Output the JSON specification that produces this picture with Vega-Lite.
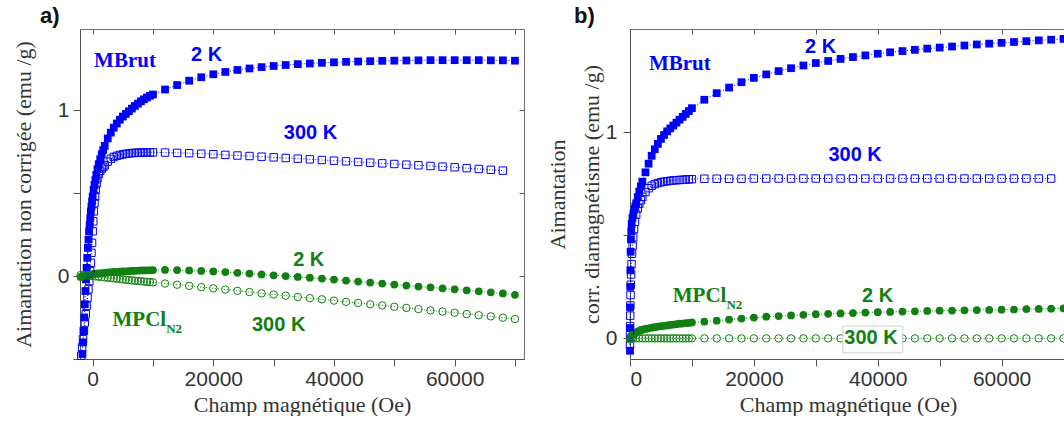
{
"$schema": "https://vega.github.io/schema/vega-lite/v6.json",
"background": "white",
"padding": {"left": 11, "top": 4, "right": 0, "bottom": 0},
"spacing": 20,
"config": {
 "view": {"stroke": "#707070", "strokeWidth": 1},
 "axis": {"grid": false, "domainColor": "#555555", "tickColor": "#555555", "labelColor": "#333333", "titleColor": "#333333", "labelFont": "Liberation Sans", "labelFontSize": 21, "titleFont": "Liberation Serif", "titleFontSize": 22, "titleFontWeight": "normal", "tickSize": 7, "labelOverlap": false, "labelBound": false}
},
"datasets": {
"d": [
{"p":"a","s":"MBrut","t":"2K","x":-1700,"y":-0.47},{"p":"a","s":"MBrut","t":"2K","x":-1600,"y":-0.40},{"p":"a","s":"MBrut","t":"2K","x":-1500,"y":-0.33},{"p":"a","s":"MBrut","t":"2K","x":-1400,"y":-0.25},{"p":"a","s":"MBrut","t":"2K","x":-1300,"y":-0.17},{"p":"a","s":"MBrut","t":"2K","x":-1200,"y":-0.09},{"p":"a","s":"MBrut","t":"2K","x":-1100,"y":-0.02},{"p":"a","s":"MBrut","t":"2K","x":-1000,"y":0.05},{"p":"a","s":"MBrut","t":"2K","x":-900,"y":0.11},{"p":"a","s":"MBrut","t":"2K","x":-800,"y":0.17},{"p":"a","s":"MBrut","t":"2K","x":-700,"y":0.22},{"p":"a","s":"MBrut","t":"2K","x":-600,"y":0.27},{"p":"a","s":"MBrut","t":"2K","x":-500,"y":0.31},{"p":"a","s":"MBrut","t":"2K","x":-400,"y":0.35},{"p":"a","s":"MBrut","t":"2K","x":-300,"y":0.39},{"p":"a","s":"MBrut","t":"2K","x":-200,"y":0.42},{"p":"a","s":"MBrut","t":"2K","x":-100,"y":0.45},{"p":"a","s":"MBrut","t":"2K","x":0,"y":0.48},{"p":"a","s":"MBrut","t":"2K","x":150,"y":0.52},{"p":"a","s":"MBrut","t":"2K","x":300,"y":0.55},{"p":"a","s":"MBrut","t":"2K","x":450,"y":0.58},{"p":"a","s":"MBrut","t":"2K","x":600,"y":0.61},{"p":"a","s":"MBrut","t":"2K","x":800,"y":0.645},{"p":"a","s":"MBrut","t":"2K","x":1000,"y":0.675},{"p":"a","s":"MBrut","t":"2K","x":1250,"y":0.705},{"p":"a","s":"MBrut","t":"2K","x":1500,"y":0.735},{"p":"a","s":"MBrut","t":"2K","x":1750,"y":0.76},{"p":"a","s":"MBrut","t":"2K","x":2000,"y":0.785},{"p":"a","s":"MBrut","t":"2K","x":2500,"y":0.83},{"p":"a","s":"MBrut","t":"2K","x":3000,"y":0.865},{"p":"a","s":"MBrut","t":"2K","x":3500,"y":0.895},{"p":"a","s":"MBrut","t":"2K","x":4000,"y":0.92},{"p":"a","s":"MBrut","t":"2K","x":4500,"y":0.943},{"p":"a","s":"MBrut","t":"2K","x":5000,"y":0.962},{"p":"a","s":"MBrut","t":"2K","x":5500,"y":0.978},{"p":"a","s":"MBrut","t":"2K","x":6000,"y":0.994},{"p":"a","s":"MBrut","t":"2K","x":6500,"y":1.01},{"p":"a","s":"MBrut","t":"2K","x":7000,"y":1.026},{"p":"a","s":"MBrut","t":"2K","x":7500,"y":1.04},{"p":"a","s":"MBrut","t":"2K","x":8000,"y":1.054},{"p":"a","s":"MBrut","t":"2K","x":8500,"y":1.066},{"p":"a","s":"MBrut","t":"2K","x":9000,"y":1.077},{"p":"a","s":"MBrut","t":"2K","x":9500,"y":1.087},{"p":"a","s":"MBrut","t":"2K","x":10000,"y":1.095},
{"p":"a","s":"MBrut","t":"2K","x":12000,"y":1.125},{"p":"a","s":"MBrut","t":"2K","x":14000,"y":1.152},{"p":"a","s":"MBrut","t":"2K","x":16000,"y":1.178},{"p":"a","s":"MBrut","t":"2K","x":18000,"y":1.199},{"p":"a","s":"MBrut","t":"2K","x":20000,"y":1.217},{"p":"a","s":"MBrut","t":"2K","x":22000,"y":1.231},{"p":"a","s":"MBrut","t":"2K","x":24000,"y":1.243},{"p":"a","s":"MBrut","t":"2K","x":26000,"y":1.252},{"p":"a","s":"MBrut","t":"2K","x":28000,"y":1.26},{"p":"a","s":"MBrut","t":"2K","x":30000,"y":1.267},{"p":"a","s":"MBrut","t":"2K","x":32000,"y":1.273},{"p":"a","s":"MBrut","t":"2K","x":34000,"y":1.278},{"p":"a","s":"MBrut","t":"2K","x":36000,"y":1.282},{"p":"a","s":"MBrut","t":"2K","x":38000,"y":1.286},{"p":"a","s":"MBrut","t":"2K","x":40000,"y":1.289},{"p":"a","s":"MBrut","t":"2K","x":42000,"y":1.292},{"p":"a","s":"MBrut","t":"2K","x":44000,"y":1.294},{"p":"a","s":"MBrut","t":"2K","x":46000,"y":1.296},{"p":"a","s":"MBrut","t":"2K","x":48000,"y":1.298},{"p":"a","s":"MBrut","t":"2K","x":50000,"y":1.299},{"p":"a","s":"MBrut","t":"2K","x":52000,"y":1.3},{"p":"a","s":"MBrut","t":"2K","x":54000,"y":1.301},{"p":"a","s":"MBrut","t":"2K","x":56000,"y":1.302},{"p":"a","s":"MBrut","t":"2K","x":58000,"y":1.302},{"p":"a","s":"MBrut","t":"2K","x":60000,"y":1.302},{"p":"a","s":"MBrut","t":"2K","x":62000,"y":1.302},{"p":"a","s":"MBrut","t":"2K","x":64000,"y":1.302},{"p":"a","s":"MBrut","t":"2K","x":66000,"y":1.301},{"p":"a","s":"MBrut","t":"2K","x":68000,"y":1.301},{"p":"a","s":"MBrut","t":"2K","x":70000,"y":1.299},
{"p":"a","s":"MBrut","t":"300K","x":-1900,"y":-0.48},{"p":"a","s":"MBrut","t":"300K","x":-1750,"y":-0.43},{"p":"a","s":"MBrut","t":"300K","x":-1600,"y":-0.38},{"p":"a","s":"MBrut","t":"300K","x":-1450,"y":-0.33},{"p":"a","s":"MBrut","t":"300K","x":-1300,"y":-0.28},{"p":"a","s":"MBrut","t":"300K","x":-1150,"y":-0.23},{"p":"a","s":"MBrut","t":"300K","x":-1000,"y":-0.18},{"p":"a","s":"MBrut","t":"300K","x":-850,"y":-0.13},{"p":"a","s":"MBrut","t":"300K","x":-700,"y":-0.08},{"p":"a","s":"MBrut","t":"300K","x":-550,"y":-0.03},{"p":"a","s":"MBrut","t":"300K","x":-400,"y":0.03},{"p":"a","s":"MBrut","t":"300K","x":-300,"y":0.08},{"p":"a","s":"MBrut","t":"300K","x":-200,"y":0.14},{"p":"a","s":"MBrut","t":"300K","x":-100,"y":0.2},{"p":"a","s":"MBrut","t":"300K","x":0,"y":0.27},{"p":"a","s":"MBrut","t":"300K","x":100,"y":0.33},{"p":"a","s":"MBrut","t":"300K","x":200,"y":0.39},{"p":"a","s":"MBrut","t":"300K","x":300,"y":0.44},{"p":"a","s":"MBrut","t":"300K","x":400,"y":0.48},{"p":"a","s":"MBrut","t":"300K","x":500,"y":0.52},{"p":"a","s":"MBrut","t":"300K","x":650,"y":0.56},{"p":"a","s":"MBrut","t":"300K","x":800,"y":0.59},{"p":"a","s":"MBrut","t":"300K","x":1000,"y":0.615},{"p":"a","s":"MBrut","t":"300K","x":1250,"y":0.635},{"p":"a","s":"MBrut","t":"300K","x":1500,"y":0.648},{"p":"a","s":"MBrut","t":"300K","x":1750,"y":0.658},{"p":"a","s":"MBrut","t":"300K","x":2000,"y":0.668},{"p":"a","s":"MBrut","t":"300K","x":2500,"y":0.69},{"p":"a","s":"MBrut","t":"300K","x":3000,"y":0.707},{"p":"a","s":"MBrut","t":"300K","x":3500,"y":0.718},{"p":"a","s":"MBrut","t":"300K","x":4000,"y":0.725},{"p":"a","s":"MBrut","t":"300K","x":4500,"y":0.73},{"p":"a","s":"MBrut","t":"300K","x":5000,"y":0.734},{"p":"a","s":"MBrut","t":"300K","x":5500,"y":0.737},{"p":"a","s":"MBrut","t":"300K","x":6000,"y":0.74},{"p":"a","s":"MBrut","t":"300K","x":6500,"y":0.742},{"p":"a","s":"MBrut","t":"300K","x":7000,"y":0.743},{"p":"a","s":"MBrut","t":"300K","x":7500,"y":0.744},{"p":"a","s":"MBrut","t":"300K","x":8000,"y":0.745},{"p":"a","s":"MBrut","t":"300K","x":8500,"y":0.745},{"p":"a","s":"MBrut","t":"300K","x":9000,"y":0.746},{"p":"a","s":"MBrut","t":"300K","x":9500,"y":0.746},{"p":"a","s":"MBrut","t":"300K","x":10000,"y":0.746},
{"p":"a","s":"MBrut","t":"300K","x":12000,"y":0.745},{"p":"a","s":"MBrut","t":"300K","x":14000,"y":0.743},{"p":"a","s":"MBrut","t":"300K","x":16000,"y":0.741},{"p":"a","s":"MBrut","t":"300K","x":18000,"y":0.738},{"p":"a","s":"MBrut","t":"300K","x":20000,"y":0.735},{"p":"a","s":"MBrut","t":"300K","x":22000,"y":0.731},{"p":"a","s":"MBrut","t":"300K","x":24000,"y":0.727},{"p":"a","s":"MBrut","t":"300K","x":26000,"y":0.724},{"p":"a","s":"MBrut","t":"300K","x":28000,"y":0.72},{"p":"a","s":"MBrut","t":"300K","x":30000,"y":0.716},{"p":"a","s":"MBrut","t":"300K","x":32000,"y":0.712},{"p":"a","s":"MBrut","t":"300K","x":34000,"y":0.708},{"p":"a","s":"MBrut","t":"300K","x":36000,"y":0.704},{"p":"a","s":"MBrut","t":"300K","x":38000,"y":0.7},{"p":"a","s":"MBrut","t":"300K","x":40000,"y":0.696},{"p":"a","s":"MBrut","t":"300K","x":42000,"y":0.692},{"p":"a","s":"MBrut","t":"300K","x":44000,"y":0.688},{"p":"a","s":"MBrut","t":"300K","x":46000,"y":0.684},{"p":"a","s":"MBrut","t":"300K","x":48000,"y":0.68},{"p":"a","s":"MBrut","t":"300K","x":50000,"y":0.676},{"p":"a","s":"MBrut","t":"300K","x":52000,"y":0.672},{"p":"a","s":"MBrut","t":"300K","x":54000,"y":0.668},{"p":"a","s":"MBrut","t":"300K","x":56000,"y":0.664},{"p":"a","s":"MBrut","t":"300K","x":58000,"y":0.66},{"p":"a","s":"MBrut","t":"300K","x":60000,"y":0.656},{"p":"a","s":"MBrut","t":"300K","x":62000,"y":0.651},{"p":"a","s":"MBrut","t":"300K","x":64000,"y":0.646},{"p":"a","s":"MBrut","t":"300K","x":66000,"y":0.641},{"p":"a","s":"MBrut","t":"300K","x":68000,"y":0.636},
{"p":"a","s":"MPCl","t":"2K","x":-2000,"y":-0.005},{"p":"a","s":"MPCl","t":"2K","x":-1500,"y":0.0},{"p":"a","s":"MPCl","t":"2K","x":-1000,"y":0.004},{"p":"a","s":"MPCl","t":"2K","x":-500,"y":0.008},{"p":"a","s":"MPCl","t":"2K","x":0,"y":0.012},{"p":"a","s":"MPCl","t":"2K","x":250,"y":0.013},{"p":"a","s":"MPCl","t":"2K","x":500,"y":0.014},{"p":"a","s":"MPCl","t":"2K","x":750,"y":0.015},{"p":"a","s":"MPCl","t":"2K","x":1000,"y":0.016},{"p":"a","s":"MPCl","t":"2K","x":1500,"y":0.018},{"p":"a","s":"MPCl","t":"2K","x":2000,"y":0.02},{"p":"a","s":"MPCl","t":"2K","x":2500,"y":0.022},{"p":"a","s":"MPCl","t":"2K","x":3000,"y":0.023},{"p":"a","s":"MPCl","t":"2K","x":3500,"y":0.025},{"p":"a","s":"MPCl","t":"2K","x":4000,"y":0.026},{"p":"a","s":"MPCl","t":"2K","x":4500,"y":0.027},{"p":"a","s":"MPCl","t":"2K","x":5000,"y":0.028},{"p":"a","s":"MPCl","t":"2K","x":5500,"y":0.029},{"p":"a","s":"MPCl","t":"2K","x":6000,"y":0.03},{"p":"a","s":"MPCl","t":"2K","x":6500,"y":0.031},{"p":"a","s":"MPCl","t":"2K","x":7000,"y":0.032},{"p":"a","s":"MPCl","t":"2K","x":7500,"y":0.033},{"p":"a","s":"MPCl","t":"2K","x":8000,"y":0.034},{"p":"a","s":"MPCl","t":"2K","x":8500,"y":0.034},{"p":"a","s":"MPCl","t":"2K","x":9000,"y":0.035},{"p":"a","s":"MPCl","t":"2K","x":9500,"y":0.035},{"p":"a","s":"MPCl","t":"2K","x":10000,"y":0.036},
{"p":"a","s":"MPCl","t":"2K","x":12000,"y":0.037},{"p":"a","s":"MPCl","t":"2K","x":14000,"y":0.036},{"p":"a","s":"MPCl","t":"2K","x":16000,"y":0.034},{"p":"a","s":"MPCl","t":"2K","x":18000,"y":0.031},{"p":"a","s":"MPCl","t":"2K","x":20000,"y":0.028},{"p":"a","s":"MPCl","t":"2K","x":22000,"y":0.024},{"p":"a","s":"MPCl","t":"2K","x":24000,"y":0.02},{"p":"a","s":"MPCl","t":"2K","x":26000,"y":0.015},{"p":"a","s":"MPCl","t":"2K","x":28000,"y":0.01},{"p":"a","s":"MPCl","t":"2K","x":30000,"y":0.005},{"p":"a","s":"MPCl","t":"2K","x":32000,"y":0.0},{"p":"a","s":"MPCl","t":"2K","x":34000,"y":-0.005},{"p":"a","s":"MPCl","t":"2K","x":36000,"y":-0.01},{"p":"a","s":"MPCl","t":"2K","x":38000,"y":-0.015},{"p":"a","s":"MPCl","t":"2K","x":40000,"y":-0.021},{"p":"a","s":"MPCl","t":"2K","x":42000,"y":-0.027},{"p":"a","s":"MPCl","t":"2K","x":44000,"y":-0.033},{"p":"a","s":"MPCl","t":"2K","x":46000,"y":-0.039},{"p":"a","s":"MPCl","t":"2K","x":48000,"y":-0.045},{"p":"a","s":"MPCl","t":"2K","x":50000,"y":-0.051},{"p":"a","s":"MPCl","t":"2K","x":52000,"y":-0.057},{"p":"a","s":"MPCl","t":"2K","x":54000,"y":-0.063},{"p":"a","s":"MPCl","t":"2K","x":56000,"y":-0.068},{"p":"a","s":"MPCl","t":"2K","x":58000,"y":-0.074},{"p":"a","s":"MPCl","t":"2K","x":60000,"y":-0.08},{"p":"a","s":"MPCl","t":"2K","x":62000,"y":-0.086},{"p":"a","s":"MPCl","t":"2K","x":64000,"y":-0.092},{"p":"a","s":"MPCl","t":"2K","x":66000,"y":-0.098},{"p":"a","s":"MPCl","t":"2K","x":68000,"y":-0.105},{"p":"a","s":"MPCl","t":"2K","x":70000,"y":-0.113},
{"p":"a","s":"MPCl","t":"300K","x":-2000,"y":0.006},{"p":"a","s":"MPCl","t":"300K","x":-1500,"y":0.005},{"p":"a","s":"MPCl","t":"300K","x":-1000,"y":0.004},{"p":"a","s":"MPCl","t":"300K","x":-500,"y":0.002},{"p":"a","s":"MPCl","t":"300K","x":0,"y":0.0},{"p":"a","s":"MPCl","t":"300K","x":500,"y":-0.002},{"p":"a","s":"MPCl","t":"300K","x":1000,"y":-0.004},{"p":"a","s":"MPCl","t":"300K","x":1500,"y":-0.006},{"p":"a","s":"MPCl","t":"300K","x":2000,"y":-0.008},{"p":"a","s":"MPCl","t":"300K","x":2500,"y":-0.01},{"p":"a","s":"MPCl","t":"300K","x":3000,"y":-0.012},{"p":"a","s":"MPCl","t":"300K","x":3500,"y":-0.014},{"p":"a","s":"MPCl","t":"300K","x":4000,"y":-0.016},{"p":"a","s":"MPCl","t":"300K","x":4500,"y":-0.018},{"p":"a","s":"MPCl","t":"300K","x":5000,"y":-0.02},{"p":"a","s":"MPCl","t":"300K","x":5500,"y":-0.022},{"p":"a","s":"MPCl","t":"300K","x":6000,"y":-0.024},{"p":"a","s":"MPCl","t":"300K","x":6500,"y":-0.026},{"p":"a","s":"MPCl","t":"300K","x":7000,"y":-0.028},{"p":"a","s":"MPCl","t":"300K","x":7500,"y":-0.03},{"p":"a","s":"MPCl","t":"300K","x":8000,"y":-0.031},{"p":"a","s":"MPCl","t":"300K","x":8500,"y":-0.033},{"p":"a","s":"MPCl","t":"300K","x":9000,"y":-0.035},{"p":"a","s":"MPCl","t":"300K","x":9500,"y":-0.036},{"p":"a","s":"MPCl","t":"300K","x":10000,"y":-0.038},
{"p":"a","s":"MPCl","t":"300K","x":12000,"y":-0.045},{"p":"a","s":"MPCl","t":"300K","x":14000,"y":-0.052},{"p":"a","s":"MPCl","t":"300K","x":16000,"y":-0.059},{"p":"a","s":"MPCl","t":"300K","x":18000,"y":-0.067},{"p":"a","s":"MPCl","t":"300K","x":20000,"y":-0.074},{"p":"a","s":"MPCl","t":"300K","x":22000,"y":-0.081},{"p":"a","s":"MPCl","t":"300K","x":24000,"y":-0.089},{"p":"a","s":"MPCl","t":"300K","x":26000,"y":-0.096},{"p":"a","s":"MPCl","t":"300K","x":28000,"y":-0.104},{"p":"a","s":"MPCl","t":"300K","x":30000,"y":-0.111},{"p":"a","s":"MPCl","t":"300K","x":32000,"y":-0.118},{"p":"a","s":"MPCl","t":"300K","x":34000,"y":-0.126},{"p":"a","s":"MPCl","t":"300K","x":36000,"y":-0.133},{"p":"a","s":"MPCl","t":"300K","x":38000,"y":-0.14},{"p":"a","s":"MPCl","t":"300K","x":40000,"y":-0.148},{"p":"a","s":"MPCl","t":"300K","x":42000,"y":-0.155},{"p":"a","s":"MPCl","t":"300K","x":44000,"y":-0.162},{"p":"a","s":"MPCl","t":"300K","x":46000,"y":-0.17},{"p":"a","s":"MPCl","t":"300K","x":48000,"y":-0.177},{"p":"a","s":"MPCl","t":"300K","x":50000,"y":-0.185},{"p":"a","s":"MPCl","t":"300K","x":52000,"y":-0.192},{"p":"a","s":"MPCl","t":"300K","x":54000,"y":-0.199},{"p":"a","s":"MPCl","t":"300K","x":56000,"y":-0.207},{"p":"a","s":"MPCl","t":"300K","x":58000,"y":-0.214},{"p":"a","s":"MPCl","t":"300K","x":60000,"y":-0.221},{"p":"a","s":"MPCl","t":"300K","x":62000,"y":-0.229},{"p":"a","s":"MPCl","t":"300K","x":64000,"y":-0.236},{"p":"a","s":"MPCl","t":"300K","x":66000,"y":-0.243},{"p":"a","s":"MPCl","t":"300K","x":68000,"y":-0.251},{"p":"a","s":"MPCl","t":"300K","x":70000,"y":-0.259},
{"p":"b","s":"MBrut","t":"2K","x":0,"y":-0.06},{"p":"b","s":"MBrut","t":"2K","x":10,"y":0.05},{"p":"b","s":"MBrut","t":"2K","x":20,"y":0.15},{"p":"b","s":"MBrut","t":"2K","x":40,"y":0.25},{"p":"b","s":"MBrut","t":"2K","x":60,"y":0.33},{"p":"b","s":"MBrut","t":"2K","x":100,"y":0.42},{"p":"b","s":"MBrut","t":"2K","x":150,"y":0.48},{"p":"b","s":"MBrut","t":"2K","x":200,"y":0.52},{"p":"b","s":"MBrut","t":"2K","x":270,"y":0.555},{"p":"b","s":"MBrut","t":"2K","x":400,"y":0.585},{"p":"b","s":"MBrut","t":"2K","x":550,"y":0.605},{"p":"b","s":"MBrut","t":"2K","x":700,"y":0.625},{"p":"b","s":"MBrut","t":"2K","x":850,"y":0.64},{"p":"b","s":"MBrut","t":"2K","x":1000,"y":0.655},{"p":"b","s":"MBrut","t":"2K","x":1250,"y":0.685},{"p":"b","s":"MBrut","t":"2K","x":1500,"y":0.712},{"p":"b","s":"MBrut","t":"2K","x":1750,"y":0.737},{"p":"b","s":"MBrut","t":"2K","x":2000,"y":0.76},{"p":"b","s":"MBrut","t":"2K","x":2500,"y":0.805},{"p":"b","s":"MBrut","t":"2K","x":3000,"y":0.847},{"p":"b","s":"MBrut","t":"2K","x":3500,"y":0.885},{"p":"b","s":"MBrut","t":"2K","x":4000,"y":0.917},{"p":"b","s":"MBrut","t":"2K","x":4500,"y":0.943},{"p":"b","s":"MBrut","t":"2K","x":5000,"y":0.967},{"p":"b","s":"MBrut","t":"2K","x":5500,"y":0.986},{"p":"b","s":"MBrut","t":"2K","x":6000,"y":1.004},{"p":"b","s":"MBrut","t":"2K","x":6500,"y":1.018},{"p":"b","s":"MBrut","t":"2K","x":7000,"y":1.032},{"p":"b","s":"MBrut","t":"2K","x":7500,"y":1.046},{"p":"b","s":"MBrut","t":"2K","x":8000,"y":1.06},{"p":"b","s":"MBrut","t":"2K","x":8500,"y":1.074},{"p":"b","s":"MBrut","t":"2K","x":9000,"y":1.088},{"p":"b","s":"MBrut","t":"2K","x":9500,"y":1.102},{"p":"b","s":"MBrut","t":"2K","x":10000,"y":1.116},
{"p":"b","s":"MBrut","t":"2K","x":12000,"y":1.157},{"p":"b","s":"MBrut","t":"2K","x":14000,"y":1.189},{"p":"b","s":"MBrut","t":"2K","x":16000,"y":1.216},{"p":"b","s":"MBrut","t":"2K","x":18000,"y":1.242},{"p":"b","s":"MBrut","t":"2K","x":20000,"y":1.263},{"p":"b","s":"MBrut","t":"2K","x":22000,"y":1.28},{"p":"b","s":"MBrut","t":"2K","x":24000,"y":1.296},{"p":"b","s":"MBrut","t":"2K","x":26000,"y":1.31},{"p":"b","s":"MBrut","t":"2K","x":28000,"y":1.323},{"p":"b","s":"MBrut","t":"2K","x":30000,"y":1.335},{"p":"b","s":"MBrut","t":"2K","x":32000,"y":1.345},{"p":"b","s":"MBrut","t":"2K","x":34000,"y":1.355},{"p":"b","s":"MBrut","t":"2K","x":36000,"y":1.364},{"p":"b","s":"MBrut","t":"2K","x":38000,"y":1.372},{"p":"b","s":"MBrut","t":"2K","x":40000,"y":1.38},{"p":"b","s":"MBrut","t":"2K","x":42000,"y":1.387},{"p":"b","s":"MBrut","t":"2K","x":44000,"y":1.393},{"p":"b","s":"MBrut","t":"2K","x":46000,"y":1.399},{"p":"b","s":"MBrut","t":"2K","x":48000,"y":1.405},{"p":"b","s":"MBrut","t":"2K","x":50000,"y":1.41},{"p":"b","s":"MBrut","t":"2K","x":52000,"y":1.415},{"p":"b","s":"MBrut","t":"2K","x":54000,"y":1.42},{"p":"b","s":"MBrut","t":"2K","x":56000,"y":1.425},{"p":"b","s":"MBrut","t":"2K","x":58000,"y":1.429},{"p":"b","s":"MBrut","t":"2K","x":60000,"y":1.433},{"p":"b","s":"MBrut","t":"2K","x":62000,"y":1.437},{"p":"b","s":"MBrut","t":"2K","x":64000,"y":1.441},{"p":"b","s":"MBrut","t":"2K","x":66000,"y":1.445},{"p":"b","s":"MBrut","t":"2K","x":68000,"y":1.448},{"p":"b","s":"MBrut","t":"2K","x":70000,"y":1.452},
{"p":"b","s":"MBrut","t":"300K","x":0,"y":-0.03},{"p":"b","s":"MBrut","t":"300K","x":10,"y":0.02},{"p":"b","s":"MBrut","t":"300K","x":20,"y":0.06},{"p":"b","s":"MBrut","t":"300K","x":40,"y":0.11},{"p":"b","s":"MBrut","t":"300K","x":60,"y":0.16},{"p":"b","s":"MBrut","t":"300K","x":90,"y":0.21},{"p":"b","s":"MBrut","t":"300K","x":130,"y":0.26},{"p":"b","s":"MBrut","t":"300K","x":180,"y":0.31},{"p":"b","s":"MBrut","t":"300K","x":250,"y":0.36},{"p":"b","s":"MBrut","t":"300K","x":330,"y":0.41},{"p":"b","s":"MBrut","t":"300K","x":420,"y":0.45},{"p":"b","s":"MBrut","t":"300K","x":520,"y":0.49},{"p":"b","s":"MBrut","t":"300K","x":650,"y":0.53},{"p":"b","s":"MBrut","t":"300K","x":800,"y":0.565},{"p":"b","s":"MBrut","t":"300K","x":1000,"y":0.6},{"p":"b","s":"MBrut","t":"300K","x":1250,"y":0.63},{"p":"b","s":"MBrut","t":"300K","x":1500,"y":0.652},{"p":"b","s":"MBrut","t":"300K","x":1750,"y":0.67},{"p":"b","s":"MBrut","t":"300K","x":2000,"y":0.686},{"p":"b","s":"MBrut","t":"300K","x":2500,"y":0.71},{"p":"b","s":"MBrut","t":"300K","x":3000,"y":0.728},{"p":"b","s":"MBrut","t":"300K","x":3500,"y":0.74},{"p":"b","s":"MBrut","t":"300K","x":4000,"y":0.748},{"p":"b","s":"MBrut","t":"300K","x":4500,"y":0.753},{"p":"b","s":"MBrut","t":"300K","x":5000,"y":0.757},{"p":"b","s":"MBrut","t":"300K","x":5500,"y":0.76},{"p":"b","s":"MBrut","t":"300K","x":6000,"y":0.762},{"p":"b","s":"MBrut","t":"300K","x":6500,"y":0.764},{"p":"b","s":"MBrut","t":"300K","x":7000,"y":0.766},{"p":"b","s":"MBrut","t":"300K","x":7500,"y":0.767},{"p":"b","s":"MBrut","t":"300K","x":8000,"y":0.768},{"p":"b","s":"MBrut","t":"300K","x":8500,"y":0.769},{"p":"b","s":"MBrut","t":"300K","x":9000,"y":0.77},{"p":"b","s":"MBrut","t":"300K","x":9500,"y":0.771},{"p":"b","s":"MBrut","t":"300K","x":10000,"y":0.772},
{"p":"b","s":"MBrut","t":"300K","x":12000,"y":0.774},{"p":"b","s":"MBrut","t":"300K","x":14000,"y":0.774},{"p":"b","s":"MBrut","t":"300K","x":16000,"y":0.774},{"p":"b","s":"MBrut","t":"300K","x":18000,"y":0.774},{"p":"b","s":"MBrut","t":"300K","x":20000,"y":0.775},{"p":"b","s":"MBrut","t":"300K","x":22000,"y":0.775},{"p":"b","s":"MBrut","t":"300K","x":24000,"y":0.775},{"p":"b","s":"MBrut","t":"300K","x":26000,"y":0.775},{"p":"b","s":"MBrut","t":"300K","x":28000,"y":0.775},{"p":"b","s":"MBrut","t":"300K","x":30000,"y":0.775},{"p":"b","s":"MBrut","t":"300K","x":32000,"y":0.775},{"p":"b","s":"MBrut","t":"300K","x":34000,"y":0.775},{"p":"b","s":"MBrut","t":"300K","x":36000,"y":0.775},{"p":"b","s":"MBrut","t":"300K","x":38000,"y":0.775},{"p":"b","s":"MBrut","t":"300K","x":40000,"y":0.775},{"p":"b","s":"MBrut","t":"300K","x":42000,"y":0.775},{"p":"b","s":"MBrut","t":"300K","x":44000,"y":0.775},{"p":"b","s":"MBrut","t":"300K","x":46000,"y":0.775},{"p":"b","s":"MBrut","t":"300K","x":48000,"y":0.775},{"p":"b","s":"MBrut","t":"300K","x":50000,"y":0.775},{"p":"b","s":"MBrut","t":"300K","x":52000,"y":0.775},{"p":"b","s":"MBrut","t":"300K","x":54000,"y":0.775},{"p":"b","s":"MBrut","t":"300K","x":56000,"y":0.775},{"p":"b","s":"MBrut","t":"300K","x":58000,"y":0.775},{"p":"b","s":"MBrut","t":"300K","x":60000,"y":0.775},{"p":"b","s":"MBrut","t":"300K","x":62000,"y":0.775},{"p":"b","s":"MBrut","t":"300K","x":64000,"y":0.775},{"p":"b","s":"MBrut","t":"300K","x":66000,"y":0.775},{"p":"b","s":"MBrut","t":"300K","x":68000,"y":0.775},
{"p":"b","s":"MPCl","t":"2K","x":0,"y":0.0},{"p":"b","s":"MPCl","t":"2K","x":100,"y":0.008},{"p":"b","s":"MPCl","t":"2K","x":250,"y":0.014},{"p":"b","s":"MPCl","t":"2K","x":500,"y":0.02},{"p":"b","s":"MPCl","t":"2K","x":750,"y":0.025},{"p":"b","s":"MPCl","t":"2K","x":1000,"y":0.029},{"p":"b","s":"MPCl","t":"2K","x":1250,"y":0.033},{"p":"b","s":"MPCl","t":"2K","x":1500,"y":0.036},{"p":"b","s":"MPCl","t":"2K","x":1750,"y":0.04},{"p":"b","s":"MPCl","t":"2K","x":2000,"y":0.043},{"p":"b","s":"MPCl","t":"2K","x":2500,"y":0.046},{"p":"b","s":"MPCl","t":"2K","x":3000,"y":0.049},{"p":"b","s":"MPCl","t":"2K","x":3500,"y":0.052},{"p":"b","s":"MPCl","t":"2K","x":4000,"y":0.054},{"p":"b","s":"MPCl","t":"2K","x":4500,"y":0.057},{"p":"b","s":"MPCl","t":"2K","x":5000,"y":0.059},{"p":"b","s":"MPCl","t":"2K","x":5500,"y":0.061},{"p":"b","s":"MPCl","t":"2K","x":6000,"y":0.063},{"p":"b","s":"MPCl","t":"2K","x":6500,"y":0.065},{"p":"b","s":"MPCl","t":"2K","x":7000,"y":0.067},{"p":"b","s":"MPCl","t":"2K","x":7500,"y":0.069},{"p":"b","s":"MPCl","t":"2K","x":8000,"y":0.071},{"p":"b","s":"MPCl","t":"2K","x":8500,"y":0.072},{"p":"b","s":"MPCl","t":"2K","x":9000,"y":0.074},{"p":"b","s":"MPCl","t":"2K","x":9500,"y":0.075},{"p":"b","s":"MPCl","t":"2K","x":10000,"y":0.077},
{"p":"b","s":"MPCl","t":"2K","x":12000,"y":0.081},{"p":"b","s":"MPCl","t":"2K","x":14000,"y":0.086},{"p":"b","s":"MPCl","t":"2K","x":16000,"y":0.091},{"p":"b","s":"MPCl","t":"2K","x":18000,"y":0.096},{"p":"b","s":"MPCl","t":"2K","x":20000,"y":0.101},{"p":"b","s":"MPCl","t":"2K","x":22000,"y":0.105},{"p":"b","s":"MPCl","t":"2K","x":24000,"y":0.108},{"p":"b","s":"MPCl","t":"2K","x":26000,"y":0.111},{"p":"b","s":"MPCl","t":"2K","x":28000,"y":0.114},{"p":"b","s":"MPCl","t":"2K","x":30000,"y":0.117},{"p":"b","s":"MPCl","t":"2K","x":32000,"y":0.119},{"p":"b","s":"MPCl","t":"2K","x":34000,"y":0.121},{"p":"b","s":"MPCl","t":"2K","x":36000,"y":0.123},{"p":"b","s":"MPCl","t":"2K","x":38000,"y":0.125},{"p":"b","s":"MPCl","t":"2K","x":40000,"y":0.127},{"p":"b","s":"MPCl","t":"2K","x":42000,"y":0.128},{"p":"b","s":"MPCl","t":"2K","x":44000,"y":0.13},{"p":"b","s":"MPCl","t":"2K","x":46000,"y":0.131},{"p":"b","s":"MPCl","t":"2K","x":48000,"y":0.133},{"p":"b","s":"MPCl","t":"2K","x":50000,"y":0.134},{"p":"b","s":"MPCl","t":"2K","x":52000,"y":0.135},{"p":"b","s":"MPCl","t":"2K","x":54000,"y":0.136},{"p":"b","s":"MPCl","t":"2K","x":56000,"y":0.137},{"p":"b","s":"MPCl","t":"2K","x":58000,"y":0.138},{"p":"b","s":"MPCl","t":"2K","x":60000,"y":0.139},{"p":"b","s":"MPCl","t":"2K","x":62000,"y":0.14},{"p":"b","s":"MPCl","t":"2K","x":64000,"y":0.142},{"p":"b","s":"MPCl","t":"2K","x":66000,"y":0.143},{"p":"b","s":"MPCl","t":"2K","x":68000,"y":0.144},{"p":"b","s":"MPCl","t":"2K","x":70000,"y":0.145},
{"p":"b","s":"MPCl","t":"300K","x":0,"y":-0.005},{"p":"b","s":"MPCl","t":"300K","x":250,"y":0.0},{"p":"b","s":"MPCl","t":"300K","x":500,"y":0.0},{"p":"b","s":"MPCl","t":"300K","x":1000,"y":0.0},{"p":"b","s":"MPCl","t":"300K","x":1500,"y":0.0},{"p":"b","s":"MPCl","t":"300K","x":2000,"y":0.0},{"p":"b","s":"MPCl","t":"300K","x":2500,"y":0.0},{"p":"b","s":"MPCl","t":"300K","x":3000,"y":0.0},{"p":"b","s":"MPCl","t":"300K","x":3500,"y":0.0},{"p":"b","s":"MPCl","t":"300K","x":4000,"y":0.0},{"p":"b","s":"MPCl","t":"300K","x":4500,"y":0.0},{"p":"b","s":"MPCl","t":"300K","x":5000,"y":0.0},{"p":"b","s":"MPCl","t":"300K","x":5500,"y":0.0},{"p":"b","s":"MPCl","t":"300K","x":6000,"y":0.0},{"p":"b","s":"MPCl","t":"300K","x":6500,"y":0.0},{"p":"b","s":"MPCl","t":"300K","x":7000,"y":0.0},{"p":"b","s":"MPCl","t":"300K","x":7500,"y":0.0},{"p":"b","s":"MPCl","t":"300K","x":8000,"y":0.0},{"p":"b","s":"MPCl","t":"300K","x":8500,"y":0.0},{"p":"b","s":"MPCl","t":"300K","x":9000,"y":0.0},{"p":"b","s":"MPCl","t":"300K","x":9500,"y":0.0},{"p":"b","s":"MPCl","t":"300K","x":10000,"y":0.0},
{"p":"b","s":"MPCl","t":"300K","x":12000,"y":0.0},{"p":"b","s":"MPCl","t":"300K","x":14000,"y":0.0},{"p":"b","s":"MPCl","t":"300K","x":16000,"y":0.0},{"p":"b","s":"MPCl","t":"300K","x":18000,"y":0.0},{"p":"b","s":"MPCl","t":"300K","x":20000,"y":0.0},{"p":"b","s":"MPCl","t":"300K","x":22000,"y":0.0},{"p":"b","s":"MPCl","t":"300K","x":24000,"y":0.0},{"p":"b","s":"MPCl","t":"300K","x":26000,"y":0.0},{"p":"b","s":"MPCl","t":"300K","x":28000,"y":0.0},{"p":"b","s":"MPCl","t":"300K","x":30000,"y":0.0},{"p":"b","s":"MPCl","t":"300K","x":32000,"y":0.0},{"p":"b","s":"MPCl","t":"300K","x":34000,"y":0.0},{"p":"b","s":"MPCl","t":"300K","x":36000,"y":0.0},{"p":"b","s":"MPCl","t":"300K","x":38000,"y":0.0},{"p":"b","s":"MPCl","t":"300K","x":40000,"y":0.0},{"p":"b","s":"MPCl","t":"300K","x":42000,"y":0.0},{"p":"b","s":"MPCl","t":"300K","x":44000,"y":0.0},{"p":"b","s":"MPCl","t":"300K","x":46000,"y":0.0},{"p":"b","s":"MPCl","t":"300K","x":48000,"y":0.0},{"p":"b","s":"MPCl","t":"300K","x":50000,"y":0.0},{"p":"b","s":"MPCl","t":"300K","x":52000,"y":0.0},{"p":"b","s":"MPCl","t":"300K","x":54000,"y":0.0},{"p":"b","s":"MPCl","t":"300K","x":56000,"y":0.0},{"p":"b","s":"MPCl","t":"300K","x":58000,"y":0.0},{"p":"b","s":"MPCl","t":"300K","x":60000,"y":0.0},{"p":"b","s":"MPCl","t":"300K","x":62000,"y":0.0},{"p":"b","s":"MPCl","t":"300K","x":64000,"y":0.0},{"p":"b","s":"MPCl","t":"300K","x":66000,"y":0.0},{"p":"b","s":"MPCl","t":"300K","x":68000,"y":0.0},{"p":"b","s":"MPCl","t":"300K","x":70000,"y":0.0}
],
"lab": [
{"p":"a","s":"MBrut","f":"serif","txt":"MBrut","x":10490,"y":1.295},
{"p":"a","s":"MBrut","f":"sans","txt":"2 K","x":18900,"y":1.336},
{"p":"a","s":"MBrut","f":"sans","txt":"300 K","x":36110,"y":0.86},
{"p":"a","s":"MPCl","f":"sans","txt":"2 K","x":35820,"y":0.1},
{"p":"a","s":"MPCl","f":"sans","txt":"300 K","x":30830,"y":-0.297},
{"p":"a","s":"MPCl","f":"serif","txt":"MPCl","x":12190,"y":-0.265},
{"p":"a","s":"MPCl","f":"sub","txt":"N2","x":12190,"y":-0.321},
{"p":"b","s":"MBrut","f":"serif","txt":"MBrut","x":13040,"y":1.328},
{"p":"b","s":"MBrut","f":"sans","txt":"2 K","x":30770,"y":1.411},
{"p":"b","s":"MBrut","f":"sans","txt":"300 K","x":36350,"y":0.889},
{"p":"b","s":"MPCl","f":"serif","txt":"MPCl","x":15570,"y":0.206},
{"p":"b","s":"MPCl","f":"sub","txt":"N2","x":15570,"y":0.161},
{"p":"b","s":"MPCl","f":"sans","txt":"2 K","x":39970,"y":0.206},
{"p":"b","s":"MPCl","f":"sans","txt":"300 K","x":38920,"y":0.0}
],
"box": [{"x":34360,"x2":44030,"y":0.06,"y2":-0.07}]
},
"hconcat": [
{
 "width": 444, "height": 330,
 "title": {"text": "a)", "anchor": "start", "frame": "group", "dx": -40, "font": "Liberation Sans", "fontSize": 22, "fontWeight": "bold", "color": "#111111", "baseline": "alphabetic", "offset": -16},
 "resolve": {"axis": {"x": "independent", "y": "independent"}},
 "layer": [
  {"data": {"name": "d"}, "transform": [{"filter": "datum.p === 'a'"}],
   "mark": {"type": "line", "strokeDash": [1, 2], "strokeWidth": 1},
   "encoding": {
    "x": {"field": "x", "type": "quantitative", "scale": {"domain": [-2100, 71500], "nice": false, "zero": false},
      "axis": {"orient": "bottom", "values": [0,10000,20000,30000,40000,50000,60000,70000], "format": "d", "labelExpr": "datum.value % 20000 === 0 ? datum.label : ''", "title": "Champ magnétique (Oe)", "labelPadding": 2, "titlePadding": 5}},
    "y": {"field": "y", "type": "quantitative", "scale": {"domain": [-0.5, 1.49], "nice": false, "zero": false},
      "axis": {"orient": "left", "values": [-0.5, 0, 0.5, 1], "labelExpr": "datum.value === 0 ? '0' : (datum.value === 1 ? '1' : '')", "title": "Aimantation non corrigée (emu /g)", "labelPadding": 4, "titlePadding": 22}},
    "color": {"field": "s", "type": "nominal", "scale": {"domain": ["MBrut", "MPCl"], "range": ["#0000ff", "#108010"]}, "legend": null},
    "detail": {"field": "t"}
   }},
  {"data": {"name": "d"}, "transform": [{"filter": "datum.p === 'a' && datum.t === '2K'"}],
   "mark": {"type": "point", "filled": true, "size": 60, "opacity": 1},
   "encoding": {
    "x": {"field": "x", "type": "quantitative", "scale": {"domain": [-2100, 71500], "nice": false, "zero": false}, "axis": null},
    "y": {"field": "y", "type": "quantitative", "scale": {"domain": [-0.5, 1.49], "nice": false, "zero": false}, "axis": null},
    "color": {"field": "s", "type": "nominal", "legend": null},
    "shape": {"field": "s", "type": "nominal", "scale": {"domain": ["MBrut", "MPCl"], "range": ["square", "circle"]}, "legend": null}
   }},
  {"data": {"name": "d"}, "transform": [{"filter": "datum.p === 'a' && datum.t === '300K'"}],
   "mark": {"type": "point", "filled": false, "size": 55, "strokeWidth": 1, "opacity": 1},
   "encoding": {
    "x": {"field": "x", "type": "quantitative", "scale": {"domain": [-2100, 71500], "nice": false, "zero": false}, "axis": null},
    "y": {"field": "y", "type": "quantitative", "scale": {"domain": [-0.5, 1.49], "nice": false, "zero": false}, "axis": null},
    "color": {"field": "s", "type": "nominal", "legend": null},
    "shape": {"field": "s", "type": "nominal", "legend": null}
   }},
  {"data": {"name": "lab"}, "transform": [{"filter": "datum.p === 'a' && datum.f === 'serif'"}],
   "mark": {"type": "text", "font": "Liberation Serif", "fontWeight": "bold", "fontSize": 21, "align": "right", "baseline": "middle"},
   "encoding": {
    "x": {"field": "x", "type": "quantitative", "scale": {"domain": [-2100, 71500], "nice": false, "zero": false}, "axis": null},
    "y": {"field": "y", "type": "quantitative", "scale": {"domain": [-0.5, 1.49], "nice": false, "zero": false}, "axis": null},
    "text": {"field": "txt"},
    "color": {"field": "s", "type": "nominal", "legend": null}
   }},
  {"data": {"name": "lab"}, "transform": [{"filter": "datum.p === 'a' && datum.f === 'sub'"}],
   "mark": {"type": "text", "font": "Liberation Serif", "fontWeight": "bold", "fontSize": 13, "align": "left", "baseline": "middle"},
   "encoding": {
    "x": {"field": "x", "type": "quantitative", "scale": {"domain": [-2100, 71500], "nice": false, "zero": false}, "axis": null},
    "y": {"field": "y", "type": "quantitative", "scale": {"domain": [-0.5, 1.49], "nice": false, "zero": false}, "axis": null},
    "text": {"field": "txt"},
    "color": {"field": "s", "type": "nominal", "legend": null}
   }},
  {"data": {"name": "lab"}, "transform": [{"filter": "datum.p === 'a' && datum.f === 'sans'"}],
   "mark": {"type": "text", "font": "Liberation Sans", "fontWeight": "bold", "fontSize": 20, "align": "center", "baseline": "middle"},
   "encoding": {
    "x": {"field": "x", "type": "quantitative", "scale": {"domain": [-2100, 71500], "nice": false, "zero": false},
      "axis": {"orient": "top", "values": [0,10000,20000,30000,40000,50000,60000,70000], "labels": false, "title": null, "domain": false, "tickSize": -5, "minExtent": 0, "maxExtent": 0}},
    "y": {"field": "y", "type": "quantitative", "scale": {"domain": [-0.5, 1.49], "nice": false, "zero": false},
      "axis": {"orient": "right", "values": [-0.5, 0, 0.5, 1], "labels": false, "title": null, "domain": false, "tickSize": -5, "minExtent": 0, "maxExtent": 0}},
    "text": {"field": "txt"},
    "color": {"field": "s", "type": "nominal", "legend": null}
   }}
 ]
},
{
 "width": 436, "height": 330,
 "title": {"text": "b)", "anchor": "start", "frame": "group", "dx": -56, "font": "Liberation Sans", "fontSize": 22, "fontWeight": "bold", "color": "#111111", "baseline": "alphabetic", "offset": -16},
 "resolve": {"axis": {"x": "independent", "y": "independent"}},
 "layer": [
  {"data": {"name": "d"}, "transform": [{"filter": "datum.p === 'b'"}],
   "mark": {"type": "line", "strokeDash": [1, 2], "strokeWidth": 1},
   "encoding": {
    "x": {"field": "x", "type": "quantitative", "scale": {"domain": [0, 70400], "nice": false, "zero": false},
      "axis": {"orient": "bottom", "values": [0,10000,20000,30000,40000,50000,60000,70000], "format": "d", "labelExpr": "datum.value % 20000 === 0 ? datum.label : ''", "title": "Champ magnétique (Oe)", "labelPadding": 2, "titlePadding": 5}},
    "y": {"field": "y", "type": "quantitative", "scale": {"domain": [-0.1, 1.5], "nice": false, "zero": false},
      "axis": {"orient": "left", "values": [0, 0.5, 1], "labelExpr": "datum.value === 0 ? '0' : (datum.value === 1 ? '1' : '')", "title": ["Aimantation", "corr. diamagnétisme (emu /g)"], "titleLineHeight": 34, "labelPadding": 6, "titlePadding": 2}},
    "color": {"field": "s", "type": "nominal", "scale": {"domain": ["MBrut", "MPCl"], "range": ["#0000ff", "#108010"]}, "legend": null},
    "detail": {"field": "t"}
   }},
  {"data": {"name": "d"}, "transform": [{"filter": "datum.p === 'b' && datum.t === '2K'"}],
   "mark": {"type": "point", "filled": true, "size": 60, "opacity": 1},
   "encoding": {
    "x": {"field": "x", "type": "quantitative", "scale": {"domain": [0, 70400], "nice": false, "zero": false}, "axis": null},
    "y": {"field": "y", "type": "quantitative", "scale": {"domain": [-0.1, 1.5], "nice": false, "zero": false}, "axis": null},
    "color": {"field": "s", "type": "nominal", "legend": null},
    "shape": {"field": "s", "type": "nominal", "scale": {"domain": ["MBrut", "MPCl"], "range": ["square", "circle"]}, "legend": null}
   }},
  {"data": {"name": "d"}, "transform": [{"filter": "datum.p === 'b' && datum.t === '300K'"}],
   "mark": {"type": "point", "filled": false, "size": 55, "strokeWidth": 1, "opacity": 1},
   "encoding": {
    "x": {"field": "x", "type": "quantitative", "scale": {"domain": [0, 70400], "nice": false, "zero": false}, "axis": null},
    "y": {"field": "y", "type": "quantitative", "scale": {"domain": [-0.1, 1.5], "nice": false, "zero": false}, "axis": null},
    "color": {"field": "s", "type": "nominal", "legend": null},
    "shape": {"field": "s", "type": "nominal", "legend": null}
   }},
  {"data": {"name": "box"},
   "mark": {"type": "rect", "fill": "white", "stroke": "#d0d0d0", "strokeWidth": 1},
   "encoding": {
    "x": {"field": "x", "type": "quantitative", "scale": {"domain": [0, 70400], "nice": false, "zero": false}, "axis": null},
    "x2": {"field": "x2"},
    "y": {"field": "y", "type": "quantitative", "scale": {"domain": [-0.1, 1.5], "nice": false, "zero": false}, "axis": null},
    "y2": {"field": "y2"}
   }},
  {"data": {"name": "lab"}, "transform": [{"filter": "datum.p === 'b' && datum.f === 'serif'"}],
   "mark": {"type": "text", "font": "Liberation Serif", "fontWeight": "bold", "fontSize": 21, "align": "right", "baseline": "middle"},
   "encoding": {
    "x": {"field": "x", "type": "quantitative", "scale": {"domain": [0, 70400], "nice": false, "zero": false}, "axis": null},
    "y": {"field": "y", "type": "quantitative", "scale": {"domain": [-0.1, 1.5], "nice": false, "zero": false}, "axis": null},
    "text": {"field": "txt"},
    "color": {"field": "s", "type": "nominal", "legend": null}
   }},
  {"data": {"name": "lab"}, "transform": [{"filter": "datum.p === 'b' && datum.f === 'sub'"}],
   "mark": {"type": "text", "font": "Liberation Serif", "fontWeight": "bold", "fontSize": 13, "align": "left", "baseline": "middle"},
   "encoding": {
    "x": {"field": "x", "type": "quantitative", "scale": {"domain": [0, 70400], "nice": false, "zero": false}, "axis": null},
    "y": {"field": "y", "type": "quantitative", "scale": {"domain": [-0.1, 1.5], "nice": false, "zero": false}, "axis": null},
    "text": {"field": "txt"},
    "color": {"field": "s", "type": "nominal", "legend": null}
   }},
  {"data": {"name": "lab"}, "transform": [{"filter": "datum.p === 'b' && datum.f === 'sans'"}],
   "mark": {"type": "text", "font": "Liberation Sans", "fontWeight": "bold", "fontSize": 20, "align": "center", "baseline": "middle"},
   "encoding": {
    "x": {"field": "x", "type": "quantitative", "scale": {"domain": [0, 70400], "nice": false, "zero": false},
      "axis": {"orient": "top", "values": [0,10000,20000,30000,40000,50000,60000,70000], "labels": false, "title": null, "domain": false, "tickSize": -5, "minExtent": 0, "maxExtent": 0}},
    "y": {"field": "y", "type": "quantitative", "scale": {"domain": [-0.1, 1.5], "nice": false, "zero": false}, "axis": null},
    "text": {"field": "txt"},
    "color": {"field": "s", "type": "nominal", "legend": null}
   }}
 ]
}
]
}
